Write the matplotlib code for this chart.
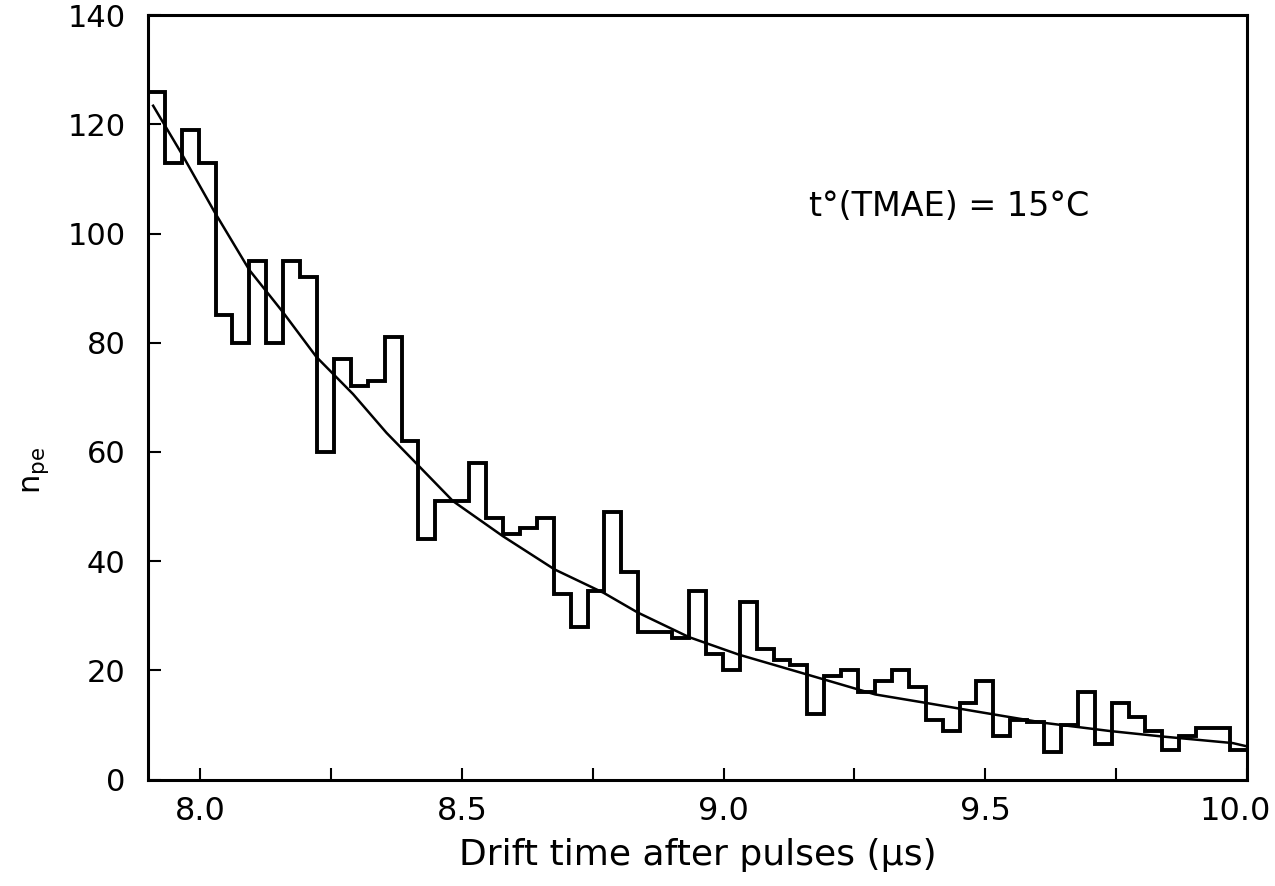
import numpy as np
import matplotlib
matplotlib.use("Agg")
import matplotlib.pyplot as plt
import matplotlib.transforms as mtransforms
from matplotlib.ticker import MultipleLocator

# histogram: 65 bins between 7.9 and 10.0 us
t_start = 7.9
t_end = 10.0
n_pe = [126, 113, 119, 113, 85, 80, 95, 80, 95, 92,
        60, 77, 72, 73, 81, 62, 44, 51, 51, 58,
        48, 45, 46, 48, 34, 28, 34.5, 49, 38, 27,
        27, 26, 34.5, 23, 20, 32.5, 24, 22, 21, 12,
        19, 20, 16, 18, 20, 17, 11, 9, 14, 18,
        8, 11, 10.5, 5, 10, 16, 6.5, 14, 11.5, 9,
        5.5, 8, 9.5, 9.5, 5.5]

# fitted curve, points
fit_t = [7.910, 7.964, 8.027, 8.094, 8.158, 8.222, 8.292, 8.356, 8.416,
         8.483, 8.578, 8.677, 8.771, 8.836, 8.934, 9.029, 9.158, 9.290,
         9.384, 9.482, 9.613, 9.739, 9.839, 9.973, 10.0]
fit_n = [123.4, 114.7, 104.0, 93.3, 85.6, 77.4, 70.6, 63.5, 57.6,
         51.0, 44.6, 38.5, 34.2, 30.6, 26.1, 22.9, 19.3, 15.6,
         14.1, 12.5, 10.4, 8.9, 7.9, 6.7, 6.1]

xtick_vals = [8.0, 8.5, 9.0, 9.5, 10.0]
xtick_labels = ["8.0", "8.5", "9.0", "9.5", "10.0"]
ytick_vals = [0, 20, 40, 60, 80, 100, 120, 140]

edges = np.linspace(t_start, t_end, len(n_pe) + 1)

fig = plt.figure(figsize=(12.75, 8.86), dpi=100)
ax = fig.add_axes([0.116, 0.12, 0.862, 0.863])

ax.stairs(n_pe, edges, baseline=None, color="black", linewidth=2.8)
ax.plot(fit_t, fit_n, color="black", linewidth=1.8)

ax.set_xlim(t_start, t_end)
ax.set_ylim(0, 140)

ax.set_xticks(xtick_vals)
ax.set_xticklabels(xtick_labels)
ax.xaxis.set_minor_locator(MultipleLocator(0.25))
ax.set_yticks(ytick_vals)

ax.tick_params(axis="x", which="both", direction="in", length=9, width=1.5,
               top=False, labelsize=23, pad=12)
ax.tick_params(axis="y", which="both", direction="in", length=9, width=1.5,
               right=False, labelsize=22, pad=16)

# last label sits a bit left of the frame edge, as in the original
shift = mtransforms.ScaledTranslation(-12 / 100, 0, fig.dpi_scale_trans)
last = ax.get_xticklabels()[-1]
last.set_transform(last.get_transform() + shift)

for sp in ax.spines.values():
    sp.set_linewidth(2.2)

ax.set_xlabel("Drift time after pulses (\u00b5s)", fontsize=26, labelpad=8)
ax.set_ylabel(r"$\mathrm{n_{pe}}$", fontsize=22)
ax.yaxis.set_label_coords(-0.088, 0.405)

ax.text(9.164, 105, "t\u00b0(TMAE) = 15\u00b0C", fontsize=24,
        ha="left", va="center")

fig.savefig("out.png", dpi=100)
